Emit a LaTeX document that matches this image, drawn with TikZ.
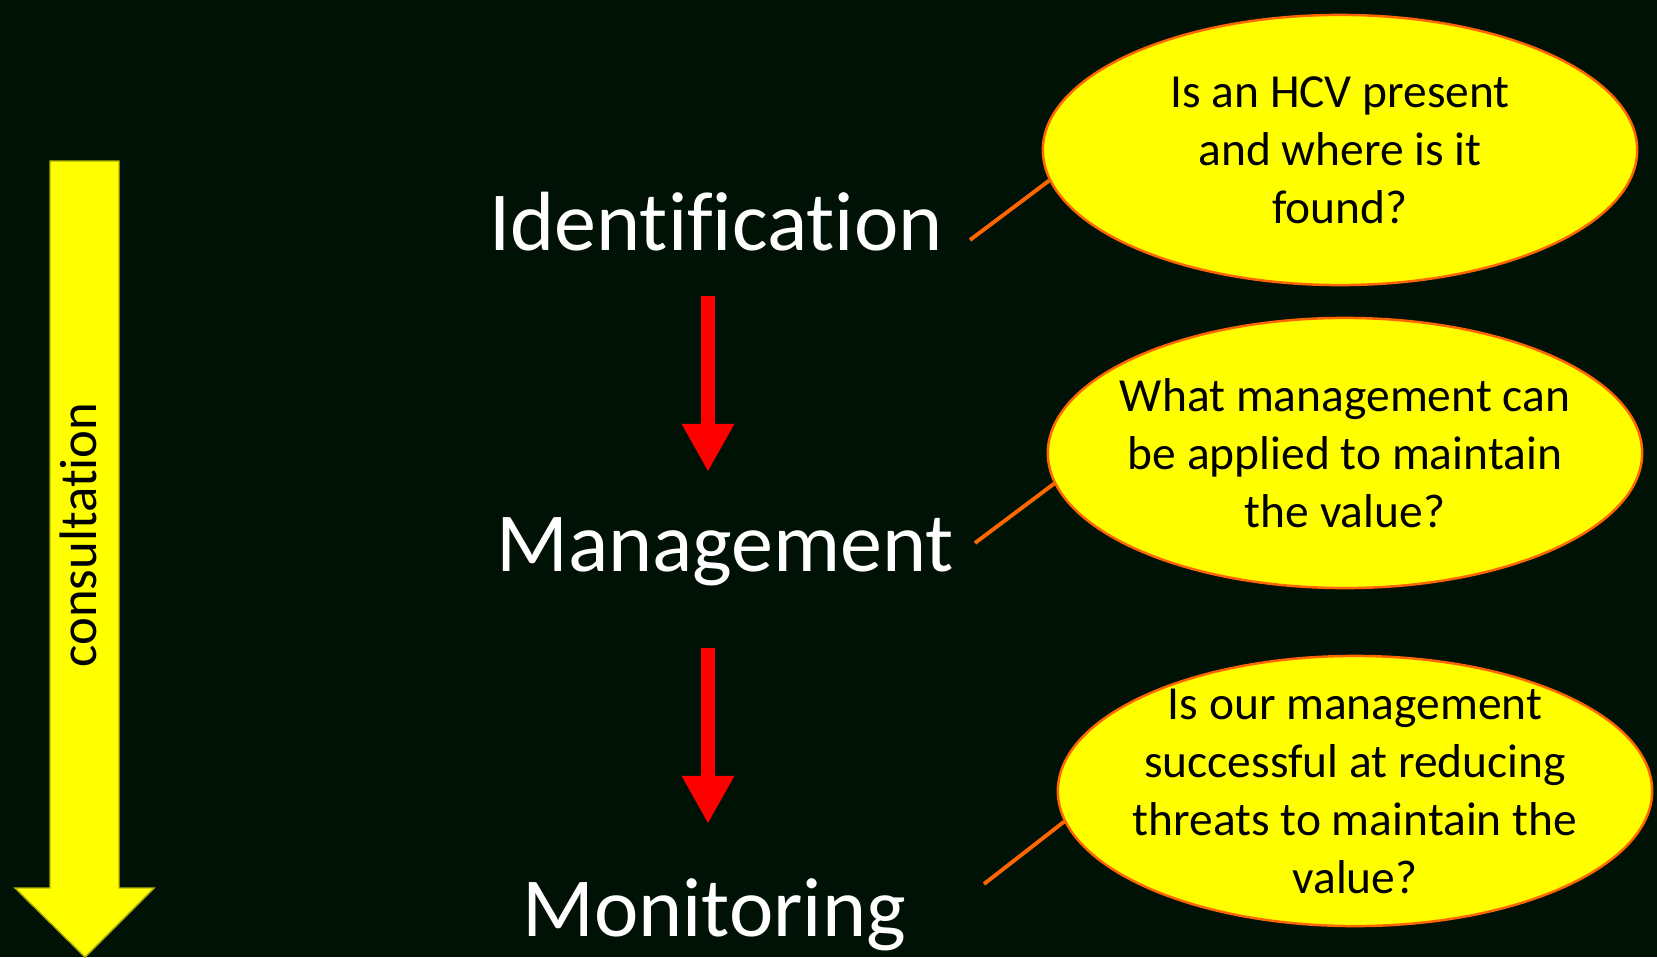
\documentclass[tikz,border=0pt]{standalone}
\usepackage{fontspec}
\setmainfont{Carlito}[Ligatures=NoCommon]
\usetikzlibrary{arrows.meta,shapes.geometric}
\definecolor{bgdark}{RGB}{0,18,5}
\definecolor{qyellow}{RGB}{255,255,0}
\definecolor{lineorange}{RGB}{255,102,0}
\definecolor{arrowred}{RGB}{255,0,0}
\begin{document}
\begin{tikzpicture}[x=0.01cm, y=-0.01cm,
  stage/.style={text=white, inner sep=0pt, anchor=base, font=\fontsize{23.9}{28}\selectfont},
  question/.style={ellipse, draw=lineorange, line width=0.7pt, fill=qyellow, minimum width=5.94cm, minimum height=2.70cm, align=center, inner sep=-0.3cm, font=\fontsize{13.5}{16.5}\selectfont},
  flowarrow/.style={arrowred, line width=0.14cm, -{Triangle[width=0.49cm,length=0.48cm]}},
  callout/.style={lineorange, line width=1.1pt}]
\useasboundingbox (0,0) rectangle (1657,957);
\fill[bgdark] (0,0) rectangle (1657,957);

% consultation arrow
\filldraw[fill=qyellow, draw=qyellow!70!black, line width=0.4pt]
  (50,161) -- (119,161) -- (119,888) -- (154,888) -- (85,957) -- (15,888) -- (50,888) -- cycle;
\node[rotate=90, anchor=base, inner sep=0pt, font=\fontsize{15}{18}\selectfont] (consult) at (97,535) {consultation};

% stages
\node[stage] (ident) at (716,250) {Identification};
\node[stage] (manag) at (725,571) {Management};
\node[stage] (monit) at (714,936) {Monitoring};
\coordinate (axis) at (708,0);

\draw[flowarrow] ([yshift=-0.46cm]ident.base -| axis) -- ([yshift=0.99cm]manag.base -| axis);
\draw[flowarrow] ([yshift=-0.77cm]manag.base -| axis) -- ([yshift=1.12cm]monit.base -| axis);

% questions
\node[question] (q1) at (1340,150) {Is an HCV present\\and where is it\\found?};
\node[question] (q2) at (1345,453) {What management can\\be applied to maintain\\the value?};
\node[question] (q3) at (1355,791) {Is our management\\successful at reducing\\threats to maintain the\\value?};

\coordinate (c1) at (970,240);
\coordinate (c2) at (975,543);
\coordinate (c3) at (984,884);
\draw[callout] (c1) -- (q1.186);
\draw[callout] (c2) -- (q2.186);
\draw[callout] (c3) -- (q3.186);
\end{tikzpicture}
\end{document}
